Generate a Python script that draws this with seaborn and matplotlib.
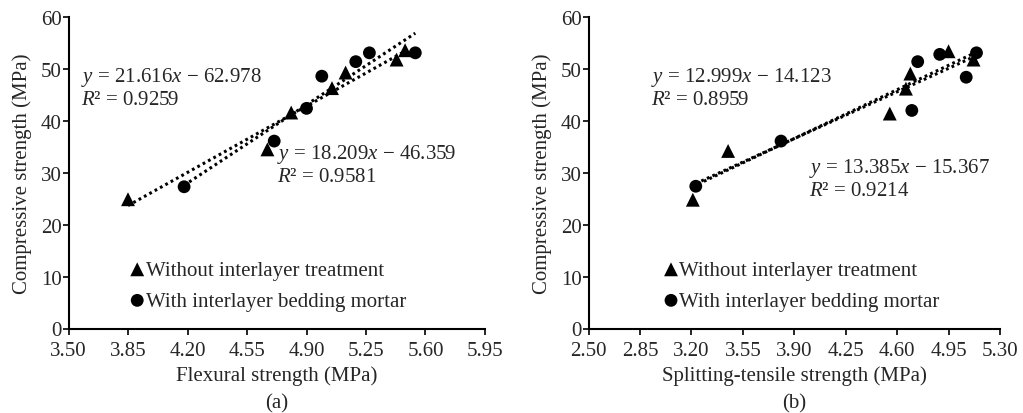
import numpy as np
import pandas as pd
import matplotlib
matplotlib.use("Agg")
import matplotlib.pyplot as plt
import seaborn as sns

# (a) flexural strength vs compressive strength
flex_without = [3.85, 4.67, 4.81, 5.05, 5.13, 5.43, 5.48]
comp_flex_without = [24.9, 34.5, 41.6, 46.3, 49.3, 51.8, 53.6]
flex_with = [4.18, 4.71, 4.90, 4.99, 5.19, 5.27, 5.54]
comp_flex_with = [27.3, 36.1, 42.4, 48.6, 51.4, 53.1, 53.1]

# (b) splitting-tensile strength vs compressive strength
split_without = [3.21, 3.45, 4.55, 4.66, 4.69, 4.95, 5.12]
comp_split_without = [24.8, 34.2, 41.4, 46.2, 49.1, 53.4, 51.8]
split_with = [3.23, 3.81, 4.70, 4.74, 4.89, 5.07, 5.14]
comp_split_with = [27.4, 36.1, 42.0, 51.4, 52.8, 48.4, 53.1]

eq_a = ["$y$ = 21.616$x$ \u2212 62.978\n$R$\u00b2 = 0.9259",
        "$y$ = 18.209$x$ \u2212 46.359\n$R$\u00b2 = 0.9581"]
eq_b = ["$y$ = 12.999$x$ \u2212 14.123\n$R$\u00b2 = 0.8959",
        "$y$ = 13.385$x$ \u2212 15.367\n$R$\u00b2 = 0.9214"]

xticks_a = np.round(np.arange(3.50, 5.96, 0.35), 2)
xticks_b = np.round(np.arange(2.50, 5.31, 0.35), 2)
yticks = [0, 10, 20, 30, 40, 50, 60]

label_without = "Without interlayer treatment"
label_with = "With interlayer bedding mortar"

sns.set_style("ticks")
plt.rcParams["font.family"] = ["Liberation Serif", "DejaVu Serif"]
plt.rcParams["mathtext.fontset"] = "custom"
plt.rcParams["mathtext.rm"] = "Liberation Serif"
plt.rcParams["mathtext.it"] = "Liberation Serif:italic"
plt.rcParams["mathtext.bf"] = "Liberation Serif:bold"

FS = 15

fig = plt.figure(figsize=(10.23, 4.14), dpi=100)
ax_a = fig.add_axes([68.5 / 1023, 1 - 329.5 / 414, 416.5 / 1023, 311.5 / 414])
ax_b = fig.add_axes([588.5 / 1023, 1 - 329.5 / 414, 411.5 / 1023, 311.5 / 414])

line_kws = dict(color="black", lw=2.2, linestyle=(0, (0.9, 1.1)))


def draw_panel(ax, xw, yw, xm, ym, xticks, xlabel, eqs, eq_pos, leg_anchor, tag):
    df_w = pd.DataFrame({"x": xw, "y": yw})
    df_m = pd.DataFrame({"x": xm, "y": ym})
    # dotted linear trendlines
    sns.regplot(data=df_w, x="x", y="y", ax=ax, scatter=False, ci=None,
                truncate=True, line_kws=line_kws)
    sns.regplot(data=df_m, x="x", y="y", ax=ax, scatter=False, ci=None,
                truncate=True, line_kws=line_kws)
    sns.scatterplot(data=df_w, x="x", y="y", ax=ax, marker="^", s=100,
                    color="black", edgecolor="none", label=label_without, zorder=3)
    sns.scatterplot(data=df_m, x="x", y="y", ax=ax, marker="o", s=85,
                    color="black", edgecolor="none", label=label_with, zorder=3)

    ax.set_xlim(xticks[0], xticks[-1])
    ax.set_ylim(0, 60)
    ax.set_xticks(xticks)
    ax.set_xticklabels([f"{t:.2f}" for t in xticks], fontsize=FS)
    ax.set_yticks(yticks)
    ax.set_yticklabels([str(t) for t in yticks], fontsize=FS)
    ax.tick_params(axis="both", direction="out", length=4, width=1.2,
                   color="black")
    ax.tick_params(axis="x", pad=5)
    ax.tick_params(axis="y", pad=1)
    for s in ["left", "bottom"]:
        ax.spines[s].set_linewidth(1.5)
        ax.spines[s].set_color("black")
    sns.despine(ax=ax)
    ax.set_xlabel(xlabel, fontsize=FS, labelpad=4)
    ax.set_ylabel("Compressive strength (MPa)", fontsize=FS, labelpad=6)

    for txt, (px, py) in zip(eqs, eq_pos):
        ax.text(px, py, txt, transform=ax.transAxes, fontsize=FS,
                ha="left", va="top", linespacing=1.15)

    ax.legend(loc="lower left", bbox_to_anchor=leg_anchor, frameon=False,
              fontsize=FS, handlelength=0.8, handletextpad=0.0,
              borderaxespad=0, labelspacing=0.55, markerscale=1.0)
    ax.text(0.5, -0.24, tag, transform=ax.transAxes, fontsize=FS,
            ha="center", va="center")


draw_panel(ax_a, flex_without, comp_flex_without, flex_with, comp_flex_with,
           xticks_a, "Flexural strength (MPa)", eq_a,
           [(0.03, 0.846), (0.50, 0.60)], (0.125, 0.03), "(a)")
draw_panel(ax_b, split_without, comp_split_without, split_with, comp_split_with,
           xticks_b, "Splitting-tensile strength (MPa)", eq_b,
           [(0.152, 0.846), (0.535, 0.555)], (0.16, 0.03), "(b)")

fig.savefig("out.png", dpi=100)
